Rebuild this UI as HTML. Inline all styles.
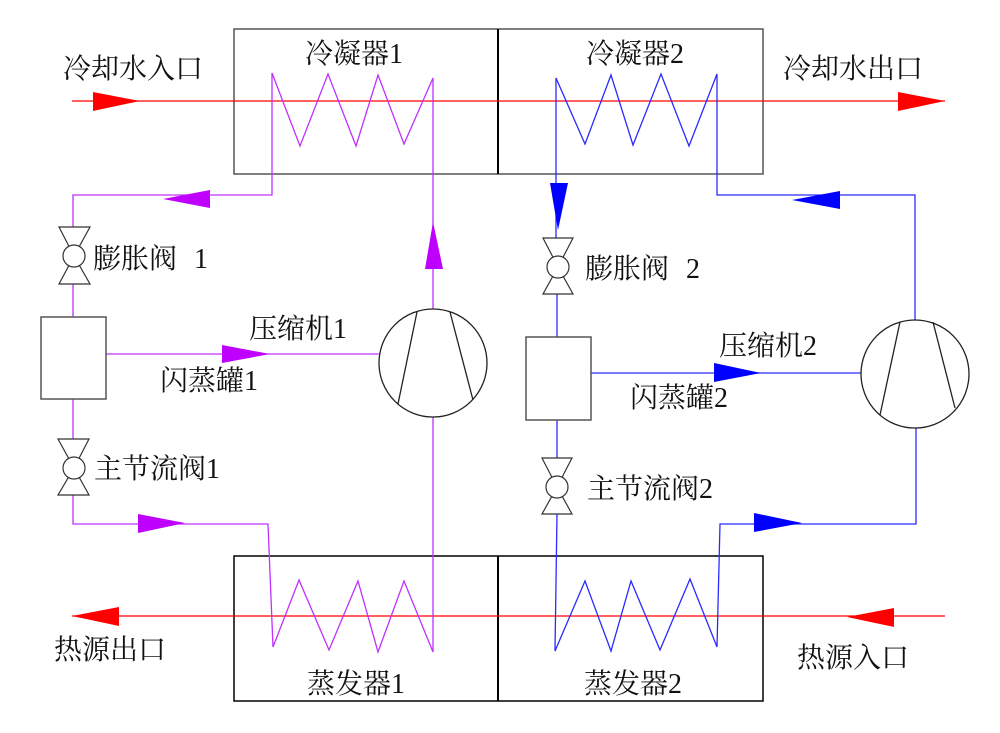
<!DOCTYPE html>
<html><head><meta charset="utf-8"><style>
html,body{margin:0;padding:0;background:#fff;}
svg{display:block;}
text{font-family:"Liberation Serif","Noto Serif CJK SC",serif;font-size:28px;fill:#111;}
</style></head><body>
<svg width="1000" height="733" viewBox="0 0 1000 733" xmlns="http://www.w3.org/2000/svg">
<rect x="0" y="0" width="1000" height="733" fill="#fff"/>
<!-- boxes -->
<rect x="234" y="29" width="529" height="145" fill="none" stroke="#555" stroke-width="1.5"/>
<rect x="234" y="556" width="529" height="145" fill="none" stroke="#000" stroke-width="1.5"/>
<line x1="498" y1="29" x2="498" y2="174" stroke="#000" stroke-width="2"/>
<line x1="498" y1="556" x2="498" y2="701" stroke="#000" stroke-width="2"/>
<!-- red water lines -->
<line x1="72" y1="101" x2="945" y2="101" stroke="#ff0000" stroke-width="1.3"/>
<line x1="72" y1="616" x2="945" y2="616" stroke="#ff0000" stroke-width="1.3"/>
<!-- purple circuit -->
<g fill="none" stroke="#c030ff" stroke-width="1.3" stroke-linejoin="miter">
<polyline points="73,228 73,195 272,195 272,73 300,146 328,74 356,146 378,75 404,144 433,78 433,310"/>
<line x1="73" y1="283" x2="73" y2="317"/>
<line x1="73" y1="399" x2="73" y2="439"/>
<polyline points="73,495 73,524 268,524 273,647 299,580 329,650 358,581 378,652 404,581 433,652 433,417"/>
<line x1="106" y1="354" x2="379" y2="354"/>
</g>
<!-- blue circuit -->
<g fill="none" stroke="#2a2aff" stroke-width="1.3">
<polyline points="556,238 556,78 585,144 611,75 633,145 661,74 689,146 717,74 717,195 915,195 915,320"/>
<line x1="557" y1="294" x2="557" y2="337"/>
<line x1="557" y1="420" x2="557" y2="458"/>
<polyline points="557,514 555,651 585,581 611,651 631,581 660,650 690,579 717,647 720,524 916,524 916,428"/>
<line x1="591" y1="373" x2="861" y2="373"/>
</g>
<!-- arrows -->
<g fill="#ff0000">
<polygon points="93,92 93,111 140,101"/>
<polygon points="898,92 898,111 945,101"/>
<polygon points="72,616 119,607 119,626"/>
<polygon points="847,617 894,608 894,627"/>
</g>
<g fill="#bf00ff">
<polygon points="163,199 210,190 210,208"/>
<polygon points="433,222 425,269 443,269"/>
<polygon points="222,345 222,363 270,354"/>
<polygon points="138,514 138,533 185,523"/>
</g>
<g fill="#0000ff">
<polygon points="550,183 568,183 558,230"/>
<polygon points="840,191 840,209 792,200"/>
<polygon points="714,363 714,382 761,373"/>
<polygon points="754,513 754,532 802,523"/>
</g>
<!-- flash tanks -->
<rect x="41" y="317" width="65" height="82" fill="#fff" stroke="#555" stroke-width="1.5"/>
<rect x="526" y="337" width="65" height="83" fill="#fff" stroke="#555" stroke-width="1.5"/>
<!-- valves -->
<g fill="#fff" stroke="#333" stroke-width="1.2">
<polygon points="59,227 90,227 74,256"/><polygon points="59,284 90,284 74,256"/><circle cx="74" cy="256" r="11"/>
<polygon points="58,439 89,439 74,468"/><polygon points="58,495 89,495 74,468"/><circle cx="74" cy="468" r="11"/>
<polygon points="543,238 573,238 558,267"/><polygon points="543,294 573,294 558,267"/><circle cx="558" cy="267" r="11"/>
<polygon points="542,458 572,458 557,487"/><polygon points="542,514 572,514 557,487"/><circle cx="557" cy="487" r="11"/>
</g>
<!-- compressors -->
<g fill="#fff" stroke="#222" stroke-width="1.3">
<circle cx="433" cy="363" r="54"/>
<line x1="417" y1="312" x2="398" y2="404"/>
<line x1="450" y1="312" x2="473" y2="400"/>
<circle cx="915" cy="374" r="54"/>
<line x1="900" y1="322" x2="880" y2="415"/>
<line x1="933" y1="322" x2="955" y2="408"/>
</g>
<!-- labels -->
<text x="63" y="78">冷却水入口</text>
<text x="305" y="63">冷凝器1</text>
<text x="586" y="63">冷凝器2</text>
<text x="783" y="78">冷却水出口</text>
<text x="93" y="268">膨胀阀</text><text x="194" y="268">1</text>
<text x="585" y="278">膨胀阀</text><text x="686" y="278">2</text>
<text x="249" y="338">压缩机1</text>
<text x="160" y="390">闪蒸罐1</text>
<text x="94" y="478">主节流阀1</text>
<text x="719" y="355">压缩机2</text>
<text x="630" y="407">闪蒸罐2</text>
<text x="587" y="498">主节流阀2</text>
<text x="54" y="659">热源出口</text>
<text x="307" y="693">蒸发器1</text>
<text x="584" y="693">蒸发器2</text>
<text x="797" y="667">热源入口</text>
</svg>
</body></html>
